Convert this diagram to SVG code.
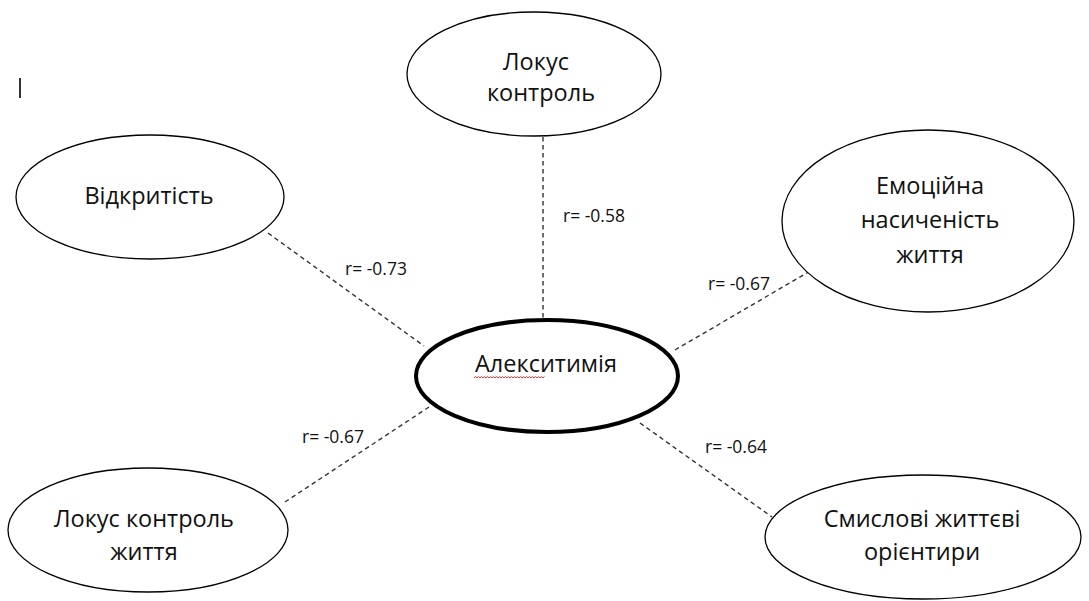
<svg xmlns="http://www.w3.org/2000/svg" width="1089" height="601" viewBox="0 0 1089 601">
<style>
.n{fill:#fff;stroke:#000;stroke-width:1.3}
.c{fill:#fff;stroke:#000;stroke-width:4}
.t{font-family:"Open Sans","Liberation Sans",sans-serif;font-size:23.5px;fill:#111;text-anchor:middle}
.l{font-family:"Open Sans","Liberation Sans",sans-serif;font-size:17.5px;fill:#111}
.e{stroke:#333;stroke-width:1.4;stroke-dasharray:4.5 3.5;fill:none}
</style>
<rect width="1089" height="601" fill="#fff"/>
<line x1="20" y1="78" x2="20" y2="98" stroke="#000" stroke-width="1.6"/>
<g id="connectors">
<line class="e" x1="543" y1="137" x2="543" y2="320"/>
<line class="e" x1="268" y1="233" x2="424" y2="346"/>
<line class="e" x1="675" y1="350" x2="817" y2="267"/>
<line class="e" x1="285" y1="502" x2="432" y2="405"/>
<line class="e" x1="640" y1="423" x2="772" y2="517"/>
<text class="l" x="563" y="222">r= -0.58</text>
<text class="l" x="345" y="275">r= -0.73</text>
<text class="l" x="708" y="290">r= -0.67</text>
<text class="l" x="302" y="443">r= -0.67</text>
<text class="l" x="705" y="453">r= -0.64</text>
</g>
<g id="top">
<ellipse class="n" cx="534" cy="74" rx="127" ry="62"/>
<text class="t" x="536" y="70">Локус</text>
<text class="t" x="541" y="101">контроль</text>
</g>
<g id="open">
<ellipse class="n" cx="150" cy="197" rx="134" ry="62"/>
<text class="t" x="149" y="204">Відкритість</text>
</g>
<g id="emo">
<ellipse class="n" cx="928" cy="221" rx="146" ry="91"/>
<text class="t" x="930" y="194">Емоційна</text>
<text class="t" x="930" y="228">насиченість</text>
<text class="t" x="930" y="263">життя</text>
</g>
<g id="lkz">
<ellipse class="n" cx="148" cy="530" rx="140" ry="62"/>
<text class="t" x="144" y="527">Локус контроль</text>
<text class="t" x="144" y="560">життя</text>
</g>
<g id="sens">
<ellipse class="n" cx="923" cy="537" rx="158" ry="62"/>
<text class="t" x="922" y="527">Смислові життєві</text>
<text class="t" x="922" y="560">орієнтири</text>
</g>
<g id="center">
<ellipse class="c" cx="547" cy="376" rx="131" ry="56"/>
<text class="t" x="546" y="372">Алекситимія</text>
<path d="M474 378 l1.5 -1.5 l1.5 1.5 l1.5 -1.5 l1.5 1.5 l1.5 -1.5 l1.5 1.5 l1.5 -1.5 l1.5 1.5 l1.5 -1.5 l1.5 1.5 l1.5 -1.5 l1.5 1.5 l1.5 -1.5 l1.5 1.5 l1.5 -1.5 l1.5 1.5 l1.5 -1.5 l1.5 1.5 l1.5 -1.5 l1.5 1.5 l1.5 -1.5 l1.5 1.5 l1.5 -1.5 l1.5 1.5 l1.5 -1.5 l1.5 1.5 l1.5 -1.5 l1.5 1.5 l1.5 -1.5 l1.5 1.5 l1.5 -1.5 l1.5 1.5 l1.5 -1.5 l1.5 1.5 l1.5 -1.5 l1.5 1.5 l1.5 -1.5 l1.5 1.5 l1.5 -1.5 l1.5 1.5 l1.5 -1.5 l1.5 1.5 l1.5 -1.5 l1.5 1.5 l1.5 -1.5 l1.5 1.5 l1.5 -1.5" fill="none" stroke="#e33" stroke-width="1"/>
</g>
</svg>
